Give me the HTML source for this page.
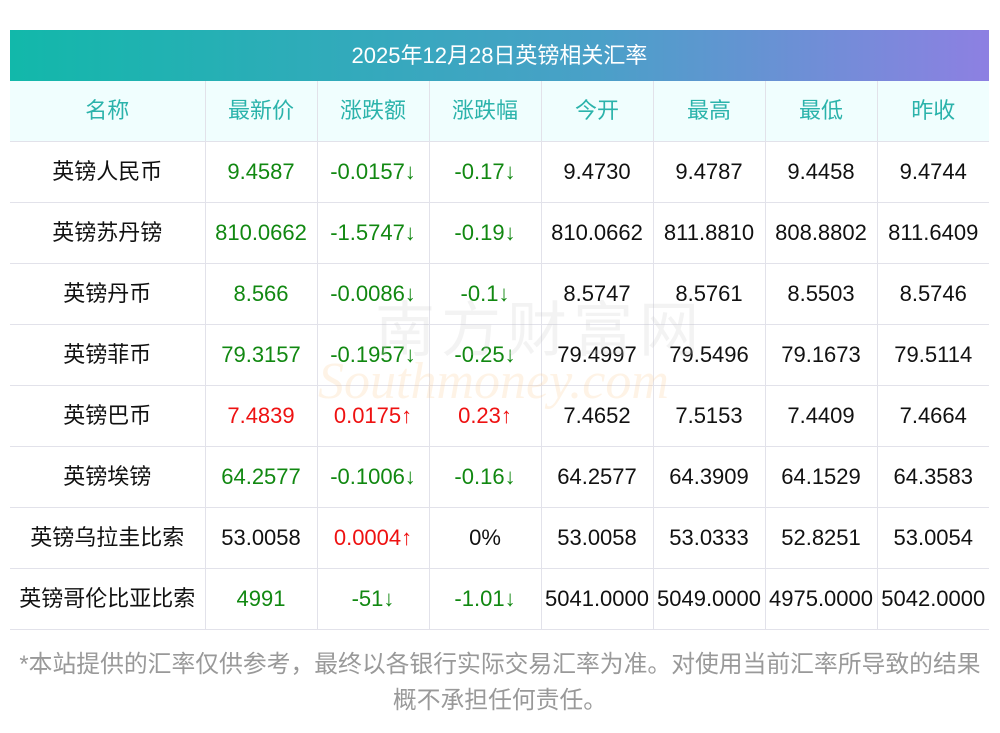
<!DOCTYPE html>
<html><head><meta charset="utf-8"><style>
body{margin:0;width:1000px;height:733px;background:#fff;font-family:"Liberation Sans","Noto Sans CJK SC",sans-serif;position:relative;overflow:hidden}
.title{position:absolute;left:10px;top:30px;width:979px;height:51px;background:linear-gradient(90deg,#12b8aa,#4aa0c8 60%,#8d80e2);color:#fff;font-size:22px;line-height:51px;text-align:center}
table{position:absolute;left:10px;top:81px;border-collapse:collapse;width:979px;table-layout:fixed}
td,th{border:1px solid #e2e2ea;text-align:center;font-size:22px;height:60px;padding:0;font-weight:normal;color:#111;line-height:24px}
tr>*:first-child{border-left:none}
tr>*:last-child{border-right:none}
tr:first-child th{border-top:none}
th{background:#f0fefe;color:#2bb3ab}
.g{color:#118811}.r{color:#ee1111}
.foot{position:absolute;left:0;top:647px;width:1000px;text-align:center;color:#999;font-size:23.8px;line-height:36px;white-space:nowrap}
.wm{position:absolute;left:375px;top:296px;font-size:60px;color:rgba(200,200,200,.22);letter-spacing:6px;z-index:2;line-height:70px}
.wm2{position:absolute;left:318px;top:352px;font-size:52px;font-style:italic;color:rgba(250,200,140,.22);z-index:2;font-family:"Liberation Serif",serif}
</style></head><body>
<div class="title">2025年12月28日英镑相关汇率</div>
<table>
<colgroup><col style="width:195px"><col span="7" style="width:112px"></colgroup>
<tr><th>名称</th><th>最新价</th><th>涨跌额</th><th>涨跌幅</th><th>今开</th><th>最高</th><th>最低</th><th>昨收</th></tr>
<tr><td>英镑人民币</td><td class="g">9.4587</td><td class="g">-0.0157↓</td><td class="g">-0.17↓</td><td>9.4730</td><td>9.4787</td><td>9.4458</td><td>9.4744</td></tr>
<tr><td>英镑苏丹镑</td><td class="g">810.0662</td><td class="g">-1.5747↓</td><td class="g">-0.19↓</td><td>810.0662</td><td>811.8810</td><td>808.8802</td><td>811.6409</td></tr>
<tr><td>英镑丹币</td><td class="g">8.566</td><td class="g">-0.0086↓</td><td class="g">-0.1↓</td><td>8.5747</td><td>8.5761</td><td>8.5503</td><td>8.5746</td></tr>
<tr><td>英镑菲币</td><td class="g">79.3157</td><td class="g">-0.1957↓</td><td class="g">-0.25↓</td><td>79.4997</td><td>79.5496</td><td>79.1673</td><td>79.5114</td></tr>
<tr><td>英镑巴币</td><td class="r">7.4839</td><td class="r">0.0175↑</td><td class="r">0.23↑</td><td>7.4652</td><td>7.5153</td><td>7.4409</td><td>7.4664</td></tr>
<tr><td>英镑埃镑</td><td class="g">64.2577</td><td class="g">-0.1006↓</td><td class="g">-0.16↓</td><td>64.2577</td><td>64.3909</td><td>64.1529</td><td>64.3583</td></tr>
<tr><td>英镑乌拉圭比索</td><td>53.0058</td><td class="r">0.0004↑</td><td>0%</td><td>53.0058</td><td>53.0333</td><td>52.8251</td><td>53.0054</td></tr>
<tr><td>英镑哥伦比亚比索</td><td class="g">4991</td><td class="g">-51↓</td><td class="g">-1.01↓</td><td>5041.0000</td><td>5049.0000</td><td>4975.0000</td><td>5042.0000</td></tr>
</table>
<div class="wm">南方财富网</div>
<div class="wm2">Southmoney.com</div>
<div class="foot">*本站提供的汇率仅供参考，最终以各银行实际交易汇率为准。对使用当前汇率所导致的结果<br>概不承担任何责任。</div>
</body></html>
